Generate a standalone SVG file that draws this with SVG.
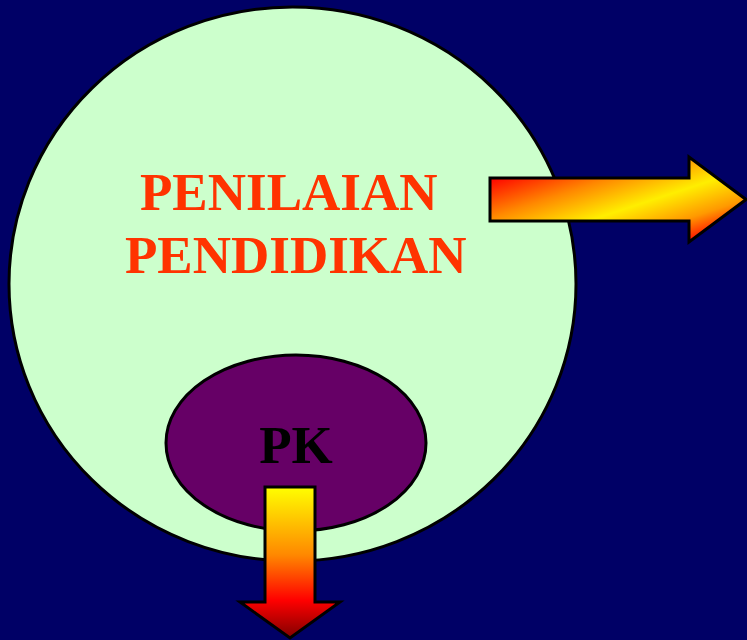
<svg xmlns="http://www.w3.org/2000/svg" width="747" height="640" viewBox="0 0 747 640">
<defs>
<style>
.t{font-family:"Liberation Serif","Times New Roman",serif;font-weight:bold;font-size:53px}
.o{stroke:#000;stroke-width:3}
</style>
<linearGradient id="gr" x1="490" y1="178" x2="529" y2="297" gradientUnits="userSpaceOnUse">
<stop offset="0" stop-color="#FF0000"/>
<stop offset="0.3" stop-color="#FF8800"/>
<stop offset="0.57" stop-color="#FFEE00"/>
<stop offset="0.8" stop-color="#FF9900"/>
<stop offset="1" stop-color="#FF0000"/>
</linearGradient>
<linearGradient id="gd" x1="0" y1="487" x2="0" y2="638" gradientUnits="userSpaceOnUse">
<stop offset="0" stop-color="#FFFF00"/>
<stop offset="0.45" stop-color="#FF8800"/>
<stop offset="0.75" stop-color="#FF0000"/>
<stop offset="1" stop-color="#800000"/>
</linearGradient>
</defs>
<rect width="747" height="640" fill="#000066"/>
<g id="circle">
<ellipse cx="292.5" cy="284" rx="283.5" ry="277" fill="#CCFFCC" class="o"/>
<text class="t" x="140" y="210" fill="#FF3300">PENILAIAN</text>
<text class="t" x="125" y="273" fill="#FF3300">PENDIDIKAN</text>
</g>
<g id="pk">
<ellipse cx="296" cy="443" rx="130" ry="88" fill="#660066" class="o"/>
<text class="t" x="296" y="463" text-anchor="middle" fill="#000">PK</text>
</g>
<g id="connectors">
<path d="M490 178 H689 V157 L746 199.5 L689 242 V221 H490 Z" fill="url(#gr)" class="o" stroke-linejoin="miter"/>
<path d="M265 487 H315 V602 H340 L290 638 L240 602 H265 Z" fill="url(#gd)" class="o"/>
</g>
</svg>
